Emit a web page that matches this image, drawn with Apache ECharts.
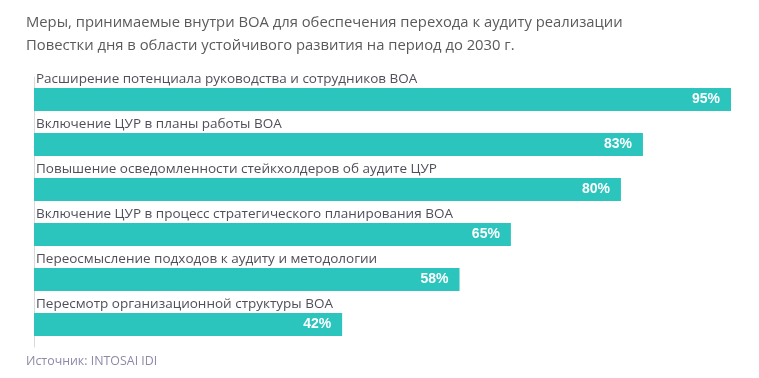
<!DOCTYPE html>
<html><head><meta charset="utf-8">
<script src="https://cdn.jsdelivr.net/npm/echarts@6/dist/echarts.min.js"></script>
<style>html,body{margin:0;padding:0;background:#fff}#c{width:759px;height:378px}</style>
</head><body><div id="c"></div>
<script>
var titleLines = ["Меры, принимаемые внутри ВОА для обеспечения перехода к аудиту реализации",
                  "Повестки дня в области устойчивого развития на период до 2030 г."];
var categories = ["Расширение потенциала руководства и сотрудников ВОА",
                  "Включение ЦУР в планы работы ВОА",
                  "Повышение осведомленности стейкхолдеров об аудите ЦУР",
                  "Включение ЦУР в процесс стратегического планирования ВОА",
                  "Переосмысление подходов к аудиту и методологии",
                  "Пересмотр организационной структуры ВОА"];
var values = [95, 83, 80, 65, 58, 42];
var sourceText = "Источник: INTOSAI IDI";

var chart = echarts.init(document.getElementById('c'), null, {renderer:'canvas'});
chart.setOption({
  animation:false,
  backgroundColor:'#fff',
  title:[{
    text: titleLines.join('\n'), left:26, top:11, padding:0,
    textStyle:{fontFamily:'Open Sans', fontSize:14.8, fontWeight:'normal', color:'#5a5a5a', lineHeight:23.5}
  },{
    text: sourceText, left:26, top:355, padding:0,
    textStyle:{fontFamily:'Open Sans', fontSize:12.4, fontWeight:'normal', color:'#8c8aa8'}
  }],
  grid:{left:34, right:28, top:77, bottom:31, containLabel:false},
  xAxis:{type:'value', min:0, max:95, show:false},
  yAxis:{
    type:'category', data:categories, inverse:true,
    axisLine:{show:true, lineStyle:{color:'#d9d9d9', width:1}},
    axisTick:{show:false},
    axisLabel:{inside:true, margin:2, verticalAlign:'bottom', padding:[0,0,13,0],
      fontFamily:'Open Sans', fontSize:13.5, color:'#4f4f5a'}
  },
  series:[{
    type:'bar', data:values, barWidth:23,
    itemStyle:{color:'#2cc5be'},
    label:{show:true, position:'insideRight', distance:11, formatter:'{c}%',
      color:'#fff', fontFamily:'Liberation Sans', fontWeight:'bold', fontSize:14}
  }]
});
</script></body></html>
